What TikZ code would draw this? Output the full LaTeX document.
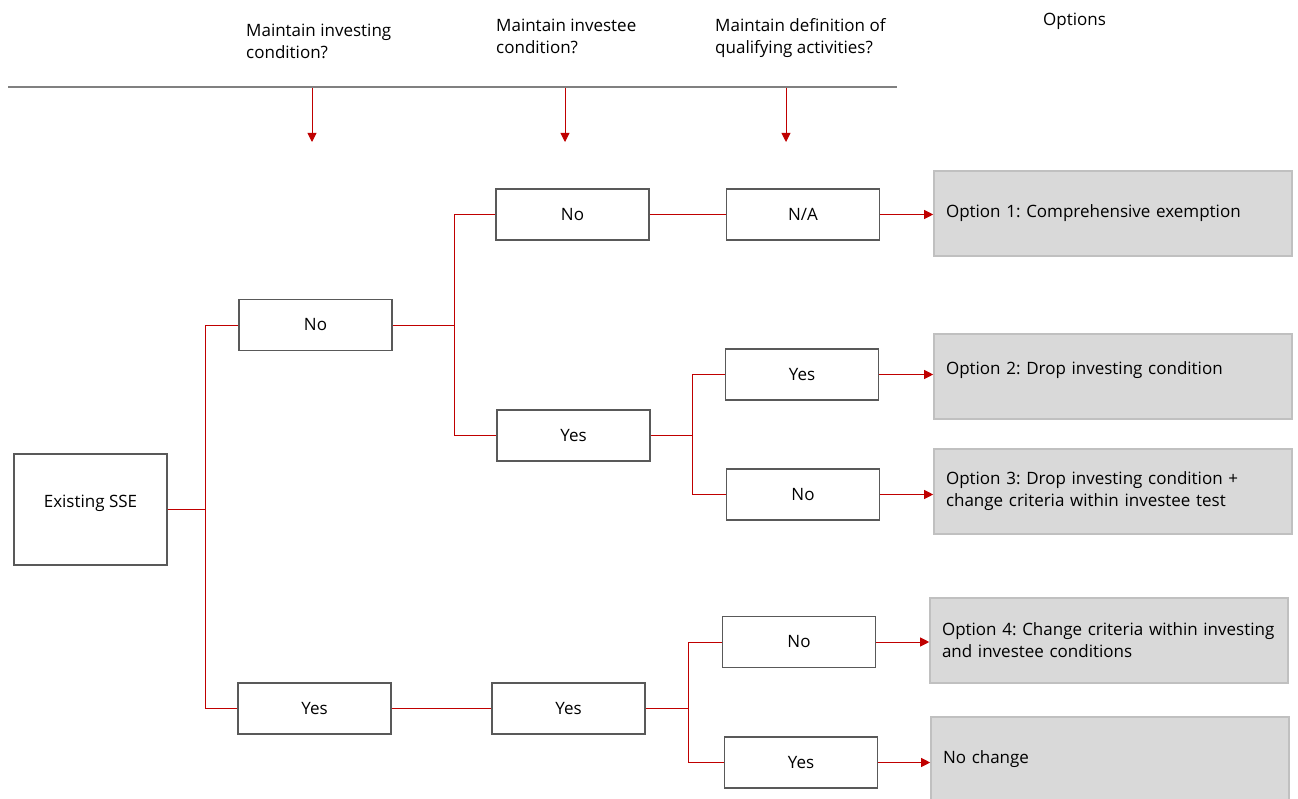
\documentclass[tikz,border=0pt]{standalone}
\usepackage{fontspec}
\setmainfont{Open Sans}
\usetikzlibrary{arrows.meta}

\definecolor{linkred}{HTML}{C00000}
\definecolor{boxgray}{HTML}{595959}
\definecolor{optfill}{HTML}{D9D9D9}
\definecolor{optline}{HTML}{C0C0C0}
\definecolor{rulegray}{HTML}{808080}

\begin{document}
\frenchspacing
\begin{tikzpicture}[x=1pt,y=-1pt,
  font=\fontsize{17}{22}\selectfont,
  box/.style={draw=boxgray,line width=1.2pt,fill=white,minimum width=153pt,minimum height=51pt,inner sep=0pt},
  opt/.style={draw=optline,fill=optfill,line width=1.6pt,minimum width=358pt,minimum height=85pt,
    text width=334pt,inner xsep=12pt,align=left},
  link/.style={draw=linkred,line width=0.9pt},
  pick/.style={link,-{Triangle[length=9pt,width=9pt]}}]
\useasboundingbox (0,0) rectangle (1298,799);

% column heads
\node[anchor=north west,inner sep=0pt,align=left] (h1) at (246,24) {Maintain investing\\condition?};
\node[anchor=north west,inner sep=0pt,align=left] (h2) at (496,19) {Maintain investee\\condition?};
\node[anchor=north west,inner sep=0pt,align=left] (h3) at (715,18) {Maintain definition of\\qualifying activities?};
\node[anchor=north west,inner sep=0pt] (h4) at (1043,13) {Options};
\draw[rulegray,line width=1.5pt] (8,87) -- (897,87);
\foreach \x/\n in {312/a,565/b,786/c} {
  \coordinate (top\n) at (\x,88);
  \coordinate (tip\n) at (\x,142);
  \draw[pick] (top\n) -- (tip\n);
}

% decision boxes
\node[box,minimum height=111pt,text depth=16pt] (sse) at (90.5,509.5) {Existing SSE};
\node[box] (no1) at (315.5,325) {No};
\node[box] (yes1) at (314.5,708.5) {Yes};
\node[box] (no2) at (572.5,214.5) {No};
\node[box] (yes2) at (573.5,435.5) {Yes};
\node[box] (yes2b) at (568.5,708.5) {Yes};
\node[box] (na) at (803,214.5) {N/A};
\node[box] (yes3) at (802,374.5) {Yes};
\node[box] (no3) at (803,494.5) {No};
\node[box] (no4) at (799,642) {No};
\node[box] (yes4) at (801,762.5) {Yes};

% options
\node[opt] (opt1) at (1113,213.5) {Option 1: Comprehensive exemption};
\node[opt,text depth=16pt] (opt2) at (1113,376.5) {Option 2: Drop investing condition};
\node[opt] (opt3) at (1113,491.5) {Option 3: Drop investing condition +\\change criteria within investee test};
\node[opt] (opt4) at (1109,640.5) {Option 4: Change criteria within investing\\and investee conditions};
\node[opt,minimum height=84pt] (opt5) at (1110,759) {No change};

% forks
\coordinate (fork1) at (205,0);
\coordinate (fork2) at (454,0);
\coordinate (fork3) at (692,0);
\coordinate (fork4) at (688,0);

\draw[link] (sse.east) -- (sse.east -| fork1);
\draw[link] (no1.west) -| (fork1 |- yes1.west) -- (yes1.west);
\draw[link] (no1.east) -- (no1.east -| fork2);
\draw[link] (no2.west) -| (fork2 |- yes2.west) -- (yes2.west);
\draw[link] (no2.east) -- (na.west);
\draw[link] (yes2.east) -- (yes2.east -| fork3);
\draw[link] (yes3.west) -| (fork3 |- no3.west) -- (no3.west);
\draw[link] (yes1.east) -- (yes2b.west);
\draw[link] (yes2b.east) -- (yes2b.east -| fork4);
\draw[link] (no4.west) -| (fork4 |- yes4.west) -- (yes4.west);

% to the options
\draw[pick] (na.east) -- (na.east -| opt1.west);
\draw[pick] (yes3.east) -- (yes3.east -| opt2.west);
\draw[pick] (no3.east) -- (no3.east -| opt3.west);
\draw[pick] (no4.east) -- (no4.east -| opt4.west);
\draw[pick] (yes4.east) -- (yes4.east -| opt5.west);
\end{tikzpicture}
\end{document}
